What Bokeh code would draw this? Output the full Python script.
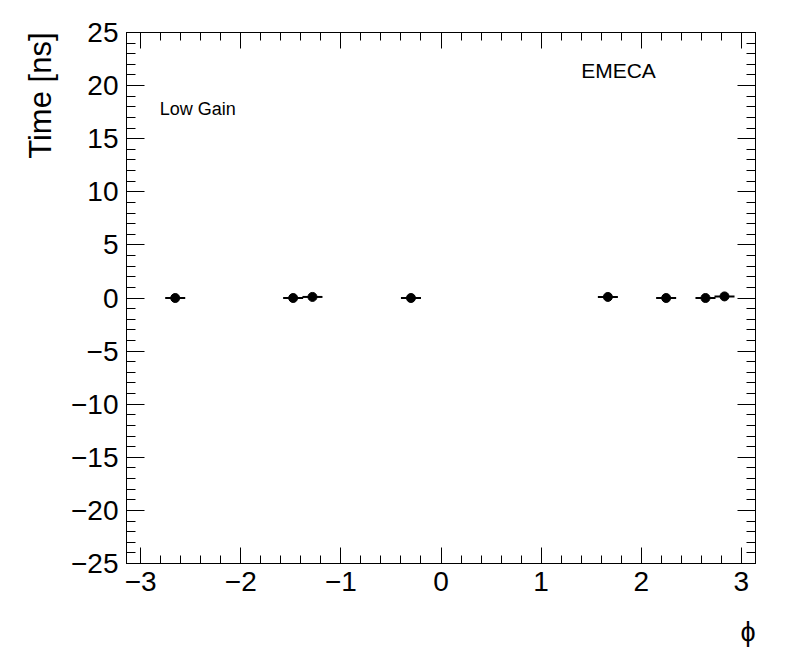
from bokeh.plotting import figure
from bokeh.models import (LinearAxis, SingleIntervalTicker, CustomJSTickFormatter,
                          CustomLabelingPolicy, Title, Label, Range1d, ColumnDataSource)
from bokeh.embed import file_html
from bokeh.resources import INLINE
import math

# data
phi = [-2.655, -1.477, -1.284, -0.300, 1.667, 2.249, 2.642, 2.832]
time_ns = [0.0, 0.0, 0.1, 0.0, 0.1, 0.0, 0.0, 0.15]
phi_err = [0.1, 0.1, 0.1, 0.1, 0.1, 0.1, 0.1, 0.1]

x_label = "\u03d5"
y_label = "Time [ns]"
FONT = "Liberation Sans"

src = ColumnDataSource(dict(
    x=phi, y=time_ns,
    x0=[a - e for a, e in zip(phi, phi_err)],
    x1=[a + e for a, e in zip(phi, phi_err)],
))

p = figure(frame_width=629, frame_height=531,
           min_border_left=126, min_border_right=32,
           min_border_top=32, min_border_bottom=100,
           x_range=Range1d(-math.pi, math.pi), y_range=Range1d(-25, 25),
           output_backend="svg", toolbar_location=None,
           x_axis_type=None, y_axis_type=None)
p.xgrid.visible = False
p.ygrid.visible = False
p.outline_line_color = "black"
p.outline_line_width = 1
p.background_fill_color = "white"
p.border_fill_color = "white"

fmt = CustomJSTickFormatter(code="return tick < 0 ? '\\u2212' + Math.abs(tick) : tick.toString();")

def style(ax, labels, major, minor):
    ax.axis_line_color = "black"
    ax.major_tick_line_color = "black"
    ax.minor_tick_line_color = "black"
    ax.major_tick_in = major
    ax.major_tick_out = 0
    ax.minor_tick_in = minor
    ax.minor_tick_out = 0
    ax.major_label_text_font = FONT
    ax.major_label_text_font_size = "28px"
    ax.major_label_text_color = "black"
    ax.major_label_standoff = 8
    ax.formatter = fmt
    if not labels:
        ax.major_label_policy = CustomLabelingPolicy(code="return []")
        ax.major_label_standoff = 0

for loc in ["below", "above"]:
    ax = LinearAxis(ticker=SingleIntervalTicker(interval=1, num_minor_ticks=5))
    style(ax, loc == "below", 16, 8)
    p.add_layout(ax, loc)
for loc in ["left", "right"]:
    ax = LinearAxis(ticker=SingleIntervalTicker(interval=5, num_minor_ticks=5))
    style(ax, loc == "left", 18, 9)
    p.add_layout(ax, loc)

ty = Title(text=y_label, align="right", text_font=FONT, text_font_size="31px",
           text_font_style="normal", text_color="black", standoff=22)
p.add_layout(ty, "left")
tx = Title(text=x_label, align="right", text_font=FONT, text_font_size="27px",
           text_font_style="normal", text_color="black", standoff=42)
p.add_layout(tx, "below")

p.segment(x0="x0", x1="x1", y0="y", y1="y", source=src, line_color="black", line_width=2)
p.scatter(x="x", y="y", source=src, marker="circle", size=9,
          fill_color="black", line_color="black")

p.add_layout(Label(x=1.40, y=20.3, text="EMECA", text_font=FONT,
                   text_font_size="21px", text_color="black"))
p.add_layout(Label(x=-2.81, y=16.9, text="Low Gain", text_font=FONT,
                   text_font_size="18px", text_color="black"))

open("out.html", "w").write(file_html(p, INLINE))
